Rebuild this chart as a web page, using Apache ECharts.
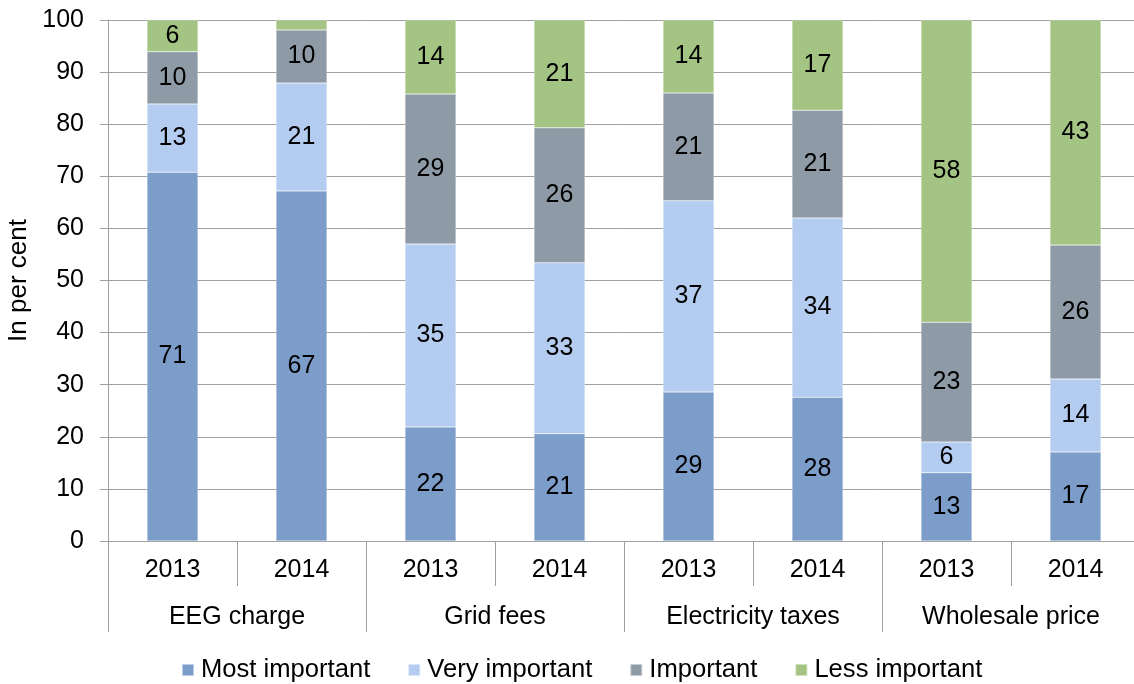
<!DOCTYPE html>
<html>
<head>
<meta charset="utf-8">
<script src="https://cdn.jsdelivr.net/npm/echarts@6/dist/echarts.min.js"></script>
<style>
html,body{margin:0;padding:0;background:#fff;}
#chart{width:1134px;height:684px;}
</style>
</head>
<body>
<div id="chart"></div>
<script>
const years = ['2013','2014','2013','2014','2013','2014','2013','2014'];
const groups = ['EEG charge','Grid fees','Electricity taxes','Wholesale price'];
const seriesNames = ['Most important','Very important','Important','Less important'];
const mostImportant = [70.8, 67.2, 21.9, 20.6, 28.6, 27.6, 13.1, 17.1];
const veryImportant = [13.1, 20.7, 35.1, 32.8, 36.7, 34.4, 5.9, 14.0];
const important = [10.0, 10.2, 28.8, 25.9, 20.7, 20.7, 23.0, 25.7];
const lessImportant = [6.1, 1.9, 14.2, 20.7, 14.0, 17.3, 58.0, 43.2];
const yTicks = [0, 10, 20, 30, 40, 50, 60, 70, 80, 90, 100];

const colors = ['#7C9CC9', '#B4CCF0', '#8E9BA6', '#A3C482'];
const font = 'Liberation Sans, Arial, sans-serif';
const gray = '#A0A0A0';
const fs = 25;

const chart = echarts.init(document.getElementById('chart'));
const dataSets = [mostImportant, veryImportant, important, lessImportant];

chart.setOption({
  animation: false,
  color: colors,
  textStyle: {fontFamily: font},
  grid: {left: 108, right: -6, top: 20, bottom: 143, containLabel: false, outerBoundsMode: 'none'},
  legend: {
    data: seriesNames,
    bottom: -4,
    left: 176,
    itemWidth: 12, itemHeight: 12, itemGap: 37,
    icon: 'rect',
    textStyle: {fontSize: 25.6, color: '#000', fontFamily: font, padding: [0, 0, 0, 2]}
  },
  xAxis: [
    {
      type: 'category', data: years, position: 'bottom',
      axisLine: {show: true, lineStyle: {color: gray, width: 1}},
      axisTick: {show: true, interval: 0, length: 45, lineStyle: {color: gray}},
      axisLabel: {interval: 0, margin: 17, fontSize: fs, color: '#000', fontFamily: font}
    },
    {
      type: 'category', data: groups, position: 'bottom', offset: 0,
      axisLine: {show: false},
      axisTick: {show: true, interval: 0, length: 91, lineStyle: {color: gray}},
      axisLabel: {interval: 0, margin: 64, fontSize: fs, color: '#000', fontFamily: font}
    }
  ],
  yAxis: {
    type: 'value', min: yTicks[0], max: yTicks[yTicks.length - 1], interval: 10,
    name: 'In per cent', nameLocation: 'middle', nameGap: 65, nameRotate: 90,
    nameTextStyle: {fontSize: 26, color: '#000', fontFamily: font},
    axisLine: {show: true, lineStyle: {color: gray}},
    axisTick: {show: true, length: 8, lineStyle: {color: gray}},
    axisLabel: {margin: 24, fontSize: fs, color: '#000', fontFamily: font},
    splitLine: {show: true, lineStyle: {color: gray, width: 1}}
  },
  series: dataSets.map((d, i) => ({
    name: seriesNames[i], type: 'bar', stack: 'total', xAxisIndex: 0,
    barWidth: 51, data: d,
    itemStyle: {borderColor: 'rgba(255,255,255,0.5)', borderWidth: 0.5},
    label: {
      show: true, position: 'inside', fontSize: fs, color: '#000', fontFamily: font,
      formatter: p => p.value >= 3 ? Math.round(p.value) : ''
    }
  }))
});
</script>
</body>
</html>
